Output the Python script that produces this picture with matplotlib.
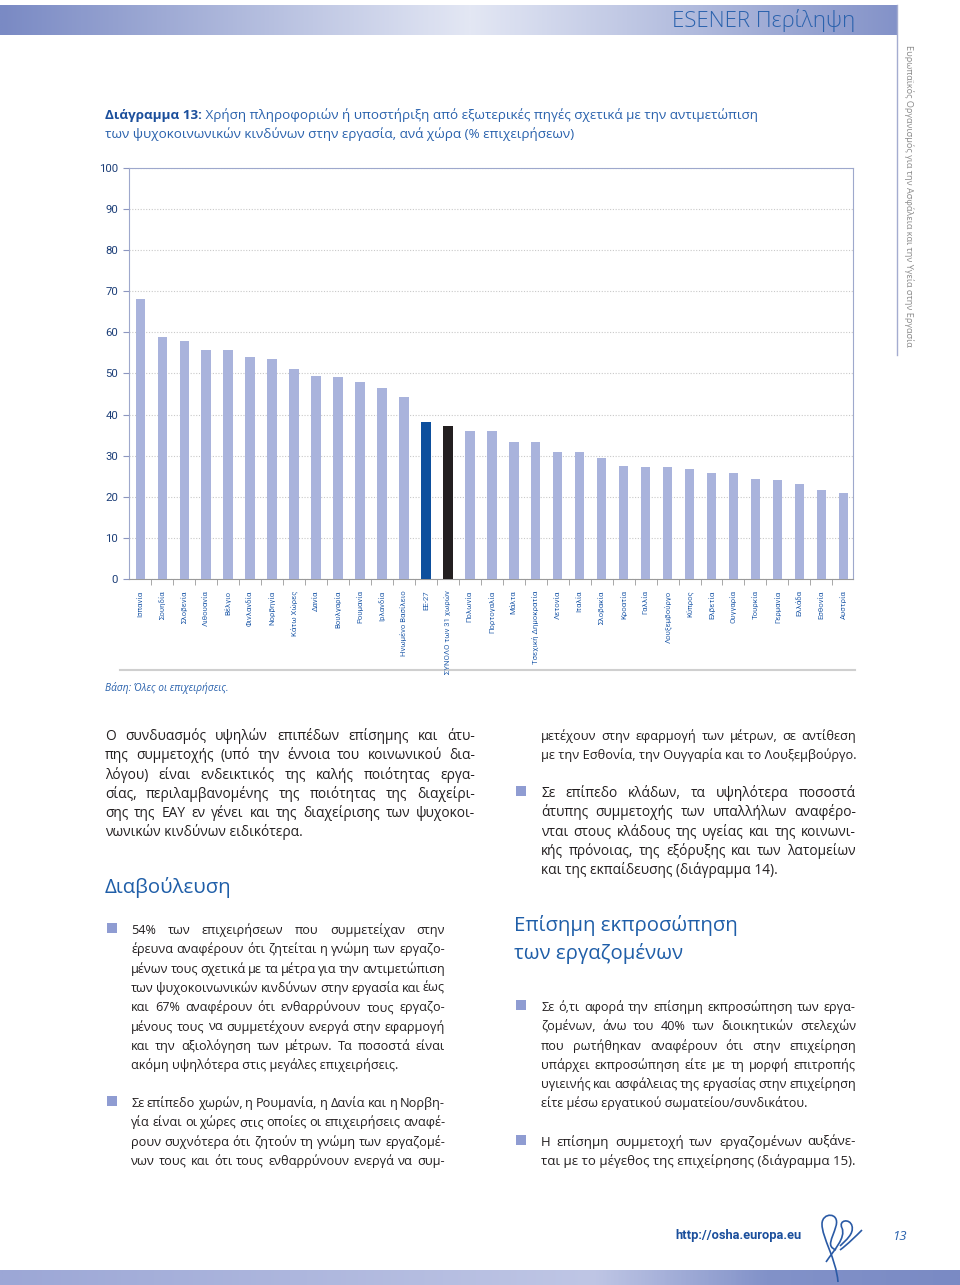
import numpy as np
import matplotlib
matplotlib.use("Agg")
import matplotlib.pyplot as plt
from matplotlib.colors import LinearSegmentedColormap
from matplotlib.patches import Rectangle, PathPatch
from matplotlib.path import Path

plt.rcParams['font.family'] = ['Open Sans', 'DejaVu Sans']

# data
countries = ['Ισπανία', 'Σουηδία', 'Σλοβενία', 'Λιθουανία', 'Βέλγιο', 'Φινλανδία',
             'Νορβηγία', 'Κάτω Χώρες', 'Δανία', 'Βουλγαρία', 'Ρουμανία', 'Ιρλανδία',
             'Ηνωμένο Βασίλειο', 'ΕΕ-27', 'ΣΥΝΟΛΟ των 31 χωρών', 'Πολωνία', 'Πορτογαλία',
             'Μάλτα', 'Τσεχική Δημοκρατία', 'Λετονία', 'Ιταλία', 'Σλοβακία', 'Κροατία',
             'Γαλλία', 'Λουξεμβούργο', 'Κύπρος', 'Ελβετία', 'Ουγγαρία', 'Τουρκία',
             'Γερμανία', 'Ελλάδα', 'Εσθονία', 'Αυστρία']
values = [68.1, 58.8, 57.9, 55.8, 55.7, 54.1, 53.5, 51.2, 49.5, 49.2, 48.0, 46.4,
          44.4, 38.3, 37.3, 36.1, 36.0, 33.4, 33.3, 30.9, 30.8, 29.5, 27.4, 27.3,
          27.3, 26.9, 25.9, 25.8, 24.4, 24.2, 23.1, 21.7, 20.9]
highlight = {'ΕΕ-27': '#0d4f9d', 'ΣΥΝΟΛΟ των 31 χωρών': '#231f20'}
yticks = list(range(0, 101, 10))

title_bold = 'Διάγραμμα 13:'
title_rest = ' Χρήση πληροφοριών ή υποστήριξη από εξωτερικές πηγές σχετικά με την αντιμετώπιση'
title_line2 = 'των ψυχοκοινωνικών κινδύνων στην εργασία, ανά χώρα (% επιχειρήσεων)'
source = 'Βάση: Όλες οι επιχειρήσεις.'

para1 = ['Ο συνδυασμός υψηλών επιπέδων επίσημης και άτυ-',
         'πης συμμετοχής (υπό την έννοια του κοινωνικού δια-',
         'λόγου) είναι ενδεικτικός της καλής ποιότητας εργα-',
         'σίας, περιλαμβανομένης της ποιότητας της διαχείρι-',
         'σης της ΕΑΥ εν γένει και της διαχείρισης των ψυχοκοι-',
         'νωνικών κινδύνων ειδικότερα.']
bullet1 = ['54% των επιχειρήσεων που συμμετείχαν στην',
           'έρευνα αναφέρουν ότι ζητείται η γνώμη των εργαζο-',
           'μένων τους σχετικά με τα μέτρα για την αντιμετώπιση',
           'των ψυχοκοινωνικών κινδύνων στην εργασία και έως',
           'και 67% αναφέρουν ότι ενθαρρύνουν τους εργαζο-',
           'μένους τους να συμμετέχουν ενεργά στην εφαρμογή',
           'και την αξιολόγηση των μέτρων. Τα ποσοστά είναι',
           'ακόμη υψηλότερα στις μεγάλες επιχειρήσεις.']
bullet2 = ['Σε επίπεδο χωρών, η Ρουμανία, η Δανία και η Νορβη-',
           'γία είναι οι χώρες στις οποίες οι επιχειρήσεις αναφέ-',
           'ρουν συχνότερα ότι ζητούν τη γνώμη των εργαζομέ-',
           'νων τους και ότι τους ενθαρρύνουν ενεργά να συμ-']
cont2 = ['μετέχουν στην εφαρμογή των μέτρων, σε αντίθεση',
         'με την Εσθονία, την Ουγγαρία και το Λουξεμβούργο.']
bullet3 = ['Σε επίπεδο κλάδων, τα υψηλότερα ποσοστά',
           'άτυπης συμμετοχής των υπαλλήλων αναφέρο-',
           'νται στους κλάδους της υγείας και της κοινωνι-',
           'κής πρόνοιας, της εξόρυξης και των λατομείων',
           'και της εκπαίδευσης (διάγραμμα 14).']
bullet4 = ['Σε ό,τι αφορά την επίσημη εκπροσώπηση των εργα-',
           'ζομένων, άνω του 40% των διοικητικών στελεχών',
           'που ρωτήθηκαν αναφέρουν ότι στην επιχείρηση',
           'υπάρχει εκπροσώπηση είτε με τη μορφή επιτροπής',
           'υγιεινής και ασφάλειας της εργασίας στην επιχείρηση',
           'είτε μέσω εργατικού σωματείου/συνδικάτου.']
bullet5 = ['Η επίσημη συμμετοχή των εργαζομένων αυξάνε-',
           'ται με το μέγεθος της επιχείρησης (διάγραμμα 15).']

BLUE = '#2a62ad'
DARK = '#231f20'
SQ = '#8f9cd2'
NARROW = ['Roboto', 'Open Sans', 'DejaVu Sans']
FS = 9.9

fig = plt.figure(figsize=(9.6, 12.85), dpi=100)
bg = fig.add_axes([0, 0, 1, 1])
bg.axis('off')
r = fig.canvas.get_renderer()

# header band
cm_head = LinearSegmentedColormap.from_list('h', ['#7a8ac4', '#e3e7f4'])
xs = np.linspace(0, 897, 500)
g = 1 - np.clip(np.abs(xs - 470) / 470, 0, 1)
bg.imshow(g[None, :], extent=(0, 897, 35, 5), cmap=cm_head, aspect='auto',
          interpolation='bilinear', vmin=0, vmax=1, zorder=0)
bg.text(855, 21, 'ESENER Περίληψη', color=BLUE, fontsize=16, fontweight='light',
        ha='right', va='center')
bg.plot([897, 897], [5, 355], color='#a4acd0', lw=1)
bg.text(909, 45, 'Ευρωπαϊκός Οργανισμός για την Ασφάλεια και την Υγεία στην Εργασία',
        rotation=270, ha='center', va='top', fontsize=6.6, color='#8a8a8a')

# footer band
cm_foot = LinearSegmentedColormap.from_list('f', [(0, '#9ca7d6'), (0.62, '#bfc6e5'),
                                                  (0.8, '#8292c9'), (1, '#7a8ac4')])
bg.imshow(np.linspace(0, 1, 500)[None, :], extent=(0, 960, 1285, 1270), cmap=cm_foot,
          aspect='auto', interpolation='bilinear', zorder=0)

# title
t = bg.text(105, 115, title_bold, color='#1b4f9c', fontsize=9.7, fontweight='bold', va='center')
w = t.get_window_extent(r).width
bg.text(105 + w, 115, title_rest, color=BLUE, fontsize=9.7, va='center')
bg.text(105, 134, title_line2, color=BLUE, fontsize=9.7, va='center')

# chart
ax = fig.add_axes([129.3 / 960, 1 - 579.3 / 1285, (853 - 129.3) / 960, (579.3 - 167.6) / 1285])
x = np.arange(len(countries))
colors = [highlight.get(c, '#a9b3dc') for c in countries]
ax.bar(x, values, width=0.43, color=colors, zorder=3)
ax.set_ylim(0, 100)
ax.set_xlim(-0.5, len(countries) - 0.56)
ax.set_yticks(yticks)
ax.yaxis.grid(True, color='#c9c9c9', linestyle=(0, (1, 1.5)), lw=0.8, zorder=0)
for s in ['left', 'top', 'right']:
    ax.spines[s].set_color('#9ea8cc')
ax.spines['bottom'].set_color('#9a9a9a')
ax.tick_params(axis='y', length=4, color='#8c96c0', labelcolor='#1d3f78', labelsize=8.2, pad=4)
ax.set_xticks(x)
ax.set_xticklabels(countries, rotation=90, ha='center', va='top', color=BLUE,
                   fontsize=5.6, family=NARROW)
ax.set_xticks(x[:-1] + 0.5, minor=True)
ax.tick_params(axis='x', which='major', length=0, pad=8)
ax.tick_params(axis='x', which='minor', length=4, color='#9a9a9a')
for lab in ax.get_yticklabels():
    lab.set_family(NARROW)

bg.plot([120, 855], [670, 670], color='#cfcfcf', lw=1.5)
bg.text(105, 688, source, color=BLUE, fontsize=7.3, style='italic', va='center')


def put_lines(lines, x0, x1, y0, justify_last=False, dy=19.3):
    # one font size per block, shrunk so every justified line keeps a word gap
    rows = []
    f = 1.0
    for i, line in enumerate(lines):
        y = y0 + i * dy + 5
        last = (i == len(lines) - 1) and not justify_last
        parts = [line] if last else line.split(' ')
        ts = [bg.text(x0, y, p, color=DARK, fontsize=FS, va='baseline') for p in parts]
        ws = [tt.get_window_extent(r).width for tt in ts]
        room = x1 - x0 - 2.6 * (len(parts) - 1)
        f = min(f, room / sum(ws))
        rows.append(ts)
    for ts in rows:
        for tt in ts:
            tt.set_fontsize(FS * f)
        if len(ts) == 1:
            continue
        ws = [tt.get_window_extent(r).width for tt in ts]
        gap = (x1 - x0 - sum(ws)) / (len(ts) - 1)
        xx = x0
        for tt, ww in zip(ts, ws):
            tt.set_x(xx)
            xx += ww + gap


def square(xl, yc):
    bg.add_patch(Rectangle((xl, yc - 5), 10, 10, color=SQ, lw=0))


put_lines(para1, 105, 475, 735)
bg.text(105, 888, 'Διαβούλευση', color='#1f5ea8', fontsize=14.7, va='center')
square(107, 928)
put_lines(bullet1, 131, 445, 929)
square(107, 1101)
put_lines(bullet2, 131, 445, 1102, justify_last=True)

put_lines(cont2, 541, 856, 735)
square(516, 791)
put_lines(bullet3, 541, 856, 792)
bg.text(514, 926, 'Επίσημη εκπροσώπηση', color='#1f5ea8', fontsize=14.7, va='center')
bg.text(514, 953, 'των εργαζομένων', color='#1f5ea8', fontsize=14.7, va='center')
square(516, 1005)
put_lines(bullet4, 541, 856, 1006)
square(516, 1140)
put_lines(bullet5, 541, 856, 1141)

# footer
bg.text(675, 1236, 'http://osha.europa.eu', color='#1b4f9c', fontsize=9.3, fontweight='bold',
        va='center', family=NARROW)
bg.text(892, 1236, '13', color=BLUE, fontsize=9.5, style='italic', va='center')
logo = [
    [(838, 1282), (836, 1258), (822, 1238), (822, 1224)],
    [(822, 1224), (822, 1212), (840, 1212), (836, 1226)],
    [(836, 1226), (832, 1240), (826, 1246), (836, 1250)],
    [(826, 1262), (834, 1250), (846, 1238), (842, 1228)],
    [(842, 1228), (838, 1220), (850, 1218), (852, 1226)],
    [(852, 1226), (854, 1234), (846, 1240), (840, 1246)],
    [(840, 1250), (848, 1244), (856, 1236), (862, 1230)],
]
for seg in logo:
    p = Path(seg, [Path.MOVETO, Path.CURVE4, Path.CURVE4, Path.CURVE4])
    bg.add_patch(PathPatch(p, fill=False, ec='#2a5aa5', lw=1.2))

bg.set_xlim(0, 960)
bg.set_ylim(1285, 0)
fig.savefig('out.png', dpi=100)
